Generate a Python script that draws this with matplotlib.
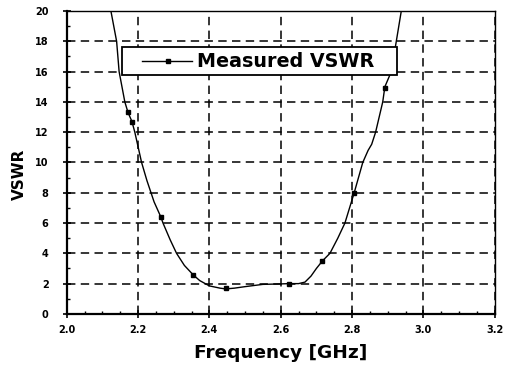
import matplotlib
matplotlib.use("Agg")
import matplotlib.pyplot as plt
from matplotlib.ticker import MultipleLocator
from matplotlib.patches import Rectangle

# Curve
freq = [2.118, 2.124, 2.14, 2.147, 2.163, 2.172, 2.183, 2.191, 2.21, 2.225, 2.245, 2.264, 2.27,
        2.29, 2.308, 2.33, 2.355, 2.373, 2.40, 2.43, 2.446, 2.47, 2.5, 2.55, 2.6, 2.624,
        2.65, 2.668, 2.685, 2.70, 2.717, 2.738, 2.76, 2.78, 2.806, 2.83, 2.845, 2.855,
        2.866, 2.886, 2.892, 2.91, 2.924, 2.938, 2.945]
vswr = [21.0, 20.0, 18.0, 16.0, 14.0, 13.3, 12.7, 12.0, 10.0, 8.8, 7.4, 6.4, 6.0,
        4.9, 4.0, 3.2, 2.57, 2.2, 1.85, 1.7, 1.65, 1.7, 1.8, 1.95, 1.98, 2.0,
        2.0, 2.1, 2.5, 3.0, 3.5, 4.0, 5.0, 6.0, 8.0, 10.0, 10.8, 11.2,
        12.0, 14.0, 15.0, 16.0, 18.0, 20.0, 21.0]
# Marker points
mk_freq = [2.172, 2.183, 2.264, 2.355, 2.446, 2.624, 2.717, 2.806, 2.892]
mk_vswr = [13.3, 12.7, 6.4, 2.57, 1.69, 2.0, 3.5, 7.97, 14.9]

xticks = [2.0, 2.2, 2.4, 2.6, 2.8, 3.0, 3.2]
yticks = [0, 2, 4, 6, 8, 10, 12, 14, 16, 18, 20]
series_label = "Measured VSWR"

fig = plt.figure(figsize=(5.09, 3.68), dpi=100)
ax = fig.add_axes([0.131, 0.147, 0.841, 0.823])
ax.plot(freq, vswr, color="black", lw=1.0)
ax.plot(mk_freq, mk_vswr, ls="none", marker="s", ms=3.5, color="black")
ax.set_xlim(2.0, 3.2)
ax.set_ylim(0, 20)
ax.set_xticks(xticks)
ax.set_yticks(yticks)
ax.set_xticklabels([f"{t:.1f}" for t in xticks], fontsize=7, fontweight="bold")
ax.set_yticklabels([str(t) for t in yticks], fontsize=7, fontweight="bold")
ax.xaxis.set_minor_locator(MultipleLocator(0.05))
ax.yaxis.set_minor_locator(MultipleLocator(1))
ax.tick_params(which="major", direction="inout", length=6, width=1.2)
ax.tick_params(axis="y", which="major", pad=10)
ax.tick_params(axis="x", which="major", pad=5)
ax.tick_params(which="minor", direction="in", length=2.5, width=1)
ax.grid(True, which="major", ls=(0, (5.5, 3.5)), color="black", lw=1.1)
for s in ax.spines.values():
    s.set_linewidth(1.0)
ax.spines["left"].set_linewidth(1.6)
ax.spines["bottom"].set_linewidth(1.6)
ax.set_xlabel("Frequency [GHz]", fontsize=13.3, fontweight="bold")
ax.xaxis.set_label_coords(0.5, -0.10)
ax.set_ylabel("VSWR", fontsize=11, fontweight="bold")
ax.yaxis.set_label_coords(-0.093, 0.462)

# Legend box drawn by hand
ax.add_patch(Rectangle((0.129, 0.789), 0.642, 0.092, transform=ax.transAxes,
                       facecolor="white", edgecolor="black", lw=1.3, zorder=5))
ax.plot([0.176, 0.293], [0.835, 0.835], transform=ax.transAxes, color="black", lw=1.0, zorder=6)
ax.plot([0.236], [0.835], transform=ax.transAxes, marker="s", ms=3.5, color="black", zorder=6)
ax.text(0.305, 0.833, series_label, transform=ax.transAxes, fontsize=13.8, fontweight="bold",
        va="center", ha="left", zorder=6)
fig.savefig("out.png", dpi=100)
